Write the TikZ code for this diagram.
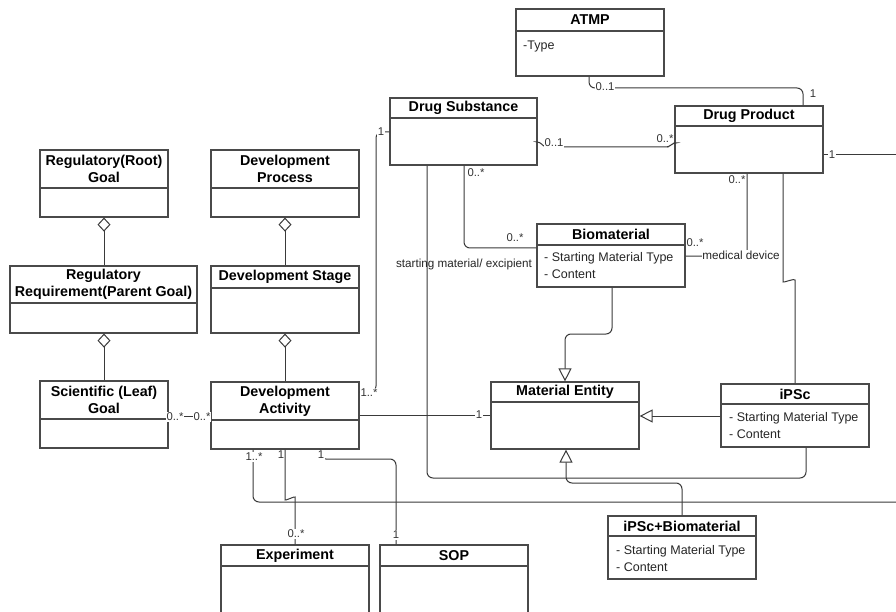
\documentclass[tikz,border=0pt]{standalone}
\usepackage{fontspec}
\setmainfont{Liberation Sans}
\usetikzlibrary{fit,arrows.meta}
\definecolor{boxc}{HTML}{4A4A4A}
\definecolor{linec}{HTML}{3A3A3A}
\definecolor{multc}{HTML}{333333}
\newcommand{\ttlfont}{\fontsize{14.3}{17}\selectfont\bfseries}
\newcommand{\attfont}{\fontsize{12.5}{17}\selectfont}
\newcommand{\mulfont}{\fontsize{11.3}{13}\selectfont}
\newcommand{\umlclass}[7]{%
  \node[cls, fit={(#2,#3) (#4,#5)}] (#1) {};
  \draw[boxsep] (#2,#6) -- (#4,#6);
  \node[ttl] (#1-t) at ({(#2+#4)/2},{(#3+#6)/2}) {#7};
}
\tikzset{
  cls/.style={draw=boxc, line width=1.2pt, inner sep=0pt, fill=white},
  boxsep/.style={draw=boxc, line width=1.1pt},
  ttl/.style={font=\ttlfont, align=center, inner sep=0pt, text=black},
  att/.style={font=\attfont, anchor=base west, inner sep=0pt, text=black!85},
  mult/.style={font=\mulfont, text=multc, inner sep=0.8pt, fill=white},
  multnf/.style={font=\mulfont, text=multc, inner sep=0.8pt},
  conn/.style={draw=linec, line width=1pt, rounded corners=6pt},
  agg/.style={conn, -{Diamond[open, length=14pt, width=13pt]}},
  gen/.style={conn, -{Triangle[open, length=13pt, width=13pt]}},
}
\begin{document}
\begin{tikzpicture}[x=1pt,y=-1pt]
\useasboundingbox (0,0) rectangle (896,612);
\fill[white] (0,0) rectangle (896,612);
\clip (0,0) rectangle (896,612);

% classes
\umlclass{atmp}{516}{9}{664}{76}{31}{ATMP}
\node[att] (atmp-a1) at (523,49.5) {-Type};
\umlclass{ds}{390}{98}{537}{165}{118}{Drug Substance}
\umlclass{dp}{675}{106}{823}{173}{126}{Drug Product}
\umlclass{bio}{537}{224}{685}{287}{245}{Biomaterial}
\node[att] (bio-a1) at (544,261.5) {- Starting Material Type};
\node[att] (bio-a2) at (544,278.5) {- Content};
\umlclass{rg}{40}{150}{168}{217}{188}{Regulatory(Root)\\Goal}
\umlclass{dproc}{211}{150}{359}{217}{188}{Development\\Process}
\umlclass{rr}{10}{266}{197}{333}{303}{Regulatory\\Requirement(Parent Goal)}
\umlclass{dstage}{211}{266}{359}{333}{288}{Development Stage}
\umlclass{sg}{40}{381}{168}{448}{419}{Scientific (Leaf)\\Goal}
\umlclass{da}{211}{382}{359}{449}{420}{Development\\Activity}
\umlclass{exp}{221}{545}{369}{625}{566}{Experiment}
\umlclass{sop}{380}{545}{528}{625}{566}{SOP}
\umlclass{me}{491}{382}{639}{449}{402}{Material Entity}
\umlclass{ipsc}{721}{384}{869}{447}{404}{iPSc}
\node[att] (ipsc-a1) at (729,421.5) {- Starting Material Type};
\node[att] (ipsc-a2) at (729,438.5) {- Content};
\umlclass{ipb}{608}{516}{756}{579}{536}{iPSc+Biomaterial}
\node[att] (ipb-a1) at (616,554) {- Starting Material Type};
\node[att] (ipb-a2) at (616,571) {- Content};

% free ends at the right edge
\coordinate (r1) at (900,155);
\coordinate (r2) at (900,502);

% aggregations
\draw[agg] (104,0 |- rr.north) -- (104,0 |- rg.south);
\draw[agg] (104,0 |- sg.north) -- (104,0 |- rr.south);
\draw[agg] (285,0 |- dstage.north) -- (285,0 |- dproc.south);
\draw[agg] (285,0 |- da.north) -- (285,0 |- dstage.south);

% associations
\draw[conn] (589,0 |- atmp.south) -- (589,88) -- (803,88) -- (803,0 |- dp.north);
\draw[conn, rounded corners=3pt] (ds.east |- 0,142) -- (540,142) -- (544,147) -- (669,147) -- (673,143) -- (dp.west |- 0,143);
\draw[conn] (dp.east |- r1) -- (r1);
\draw[conn] (ds.west |- 0,132) -- (376,132) -- (376,392) -- (da.east |- 0,392);
\draw[conn] (427,0 |- ds.south) -- (427,478) -- (806,478) -- (806,0 |- ipsc.south);
\draw[conn] (464,0 |- ds.south) -- (464,248) -- (bio.west |- 0,248);
\draw[conn] (bio.east |- 0,256) -- (747,256) -- (747,0 |- dp.south);
\draw[conn] (783,0 |- dp.south) -- (783,276) .. controls (783,283) and (795,278) .. (795,286) -- (795,0 |- ipsc.north);
\draw[conn] (da.east |- 0,415) -- (me.west |- 0,415);
\draw[conn] (sg.east |- 0,416) -- (da.west |- 0,416);
\draw[conn] (253,0 |- da.south) -- (253,502) -- (r2);
\draw[conn] (285,0 |- da.south) -- (285,494) .. controls (285,501) and (295,496) .. (295,503) -- (295,0 |- exp.north);
\draw[conn] (320,0 |- da.south) -- (320,459) -- (396,459) -- (396,0 |- sop.north);

% generalizations
\draw[gen] (612,0 |- bio.south) -- (612,334) -- (565,334) -- (565,0 |- me.north);
\draw[gen] (ipsc.west |- 0,416) -- (me.east |- 0,416);
\draw[gen] (682,0 |- ipb.north) -- (682,483) -- (566,483) -- (566,0 |- me.south);

% multiplicities and labels
\node[mult] (l1) at (605,87) {0..1};
\node[multnf] (l2) at (813,94) {1};
\node[mult] (l3) at (554,143) {0..1};
\node[multnf] (l4) at (665,139) {0..*};
\node[mult] (l5) at (832,155) {1};
\node[mult] (l6) at (381,132) {1};
\node[mult] (l7) at (369,393) {1..*};
\node[multnf] (l8) at (476,173) {0..*};
\node[multnf] (l9) at (515,238) {0..*};
\node[multnf, font=\fontsize{11.7}{13}\selectfont, text=black!85] (l10) at (464,264) {starting material/ excipient};
\node[multnf] (l11) at (695,243) {0..*};
\node[mult, font=\fontsize{11.7}{13}\selectfont, text=black!85] (l12) at (741,255) {medical device};
\node[multnf] (l13) at (737,180) {0..*};
\node[mult] (l14) at (479,415) {1};
\node[mult] (l15) at (175,417) {0..*};
\node[mult] (l16) at (202,417) {0..*};
\node[mult] (l17) at (254,457) {1..*};
\node[multnf] (l18) at (281,455) {1};
\node[mult] (l19) at (296,534) {0..*};
\node[mult] (l20) at (321,455) {1};
\node[mult] (l21) at (396,535) {1};
\end{tikzpicture}
\end{document}
